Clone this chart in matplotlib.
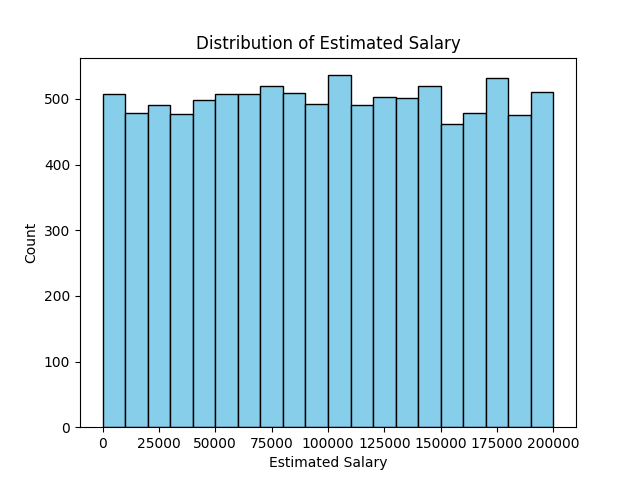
import numpy as np
import matplotlib.pyplot as plt

# bin counts (20 bins)
bin_edges = np.linspace(11.58, 199992.48, 21)
counts = [508, 478, 490, 477, 498, 507, 507, 519, 509, 492,
          536, 490, 503, 501, 520, 461, 478, 531, 475, 510]

centers = (bin_edges[:-1] + bin_edges[1:]) / 2

fig, ax = plt.subplots(figsize=(6.4, 4.8), dpi=100)
ax.hist(centers, bins=bin_edges, weights=counts, color='skyblue', edgecolor='black')
ax.set_title('Distribution of Estimated Salary')
ax.set_xlabel('Estimated Salary')
ax.set_ylabel('Count')

plt.savefig('out.png')
